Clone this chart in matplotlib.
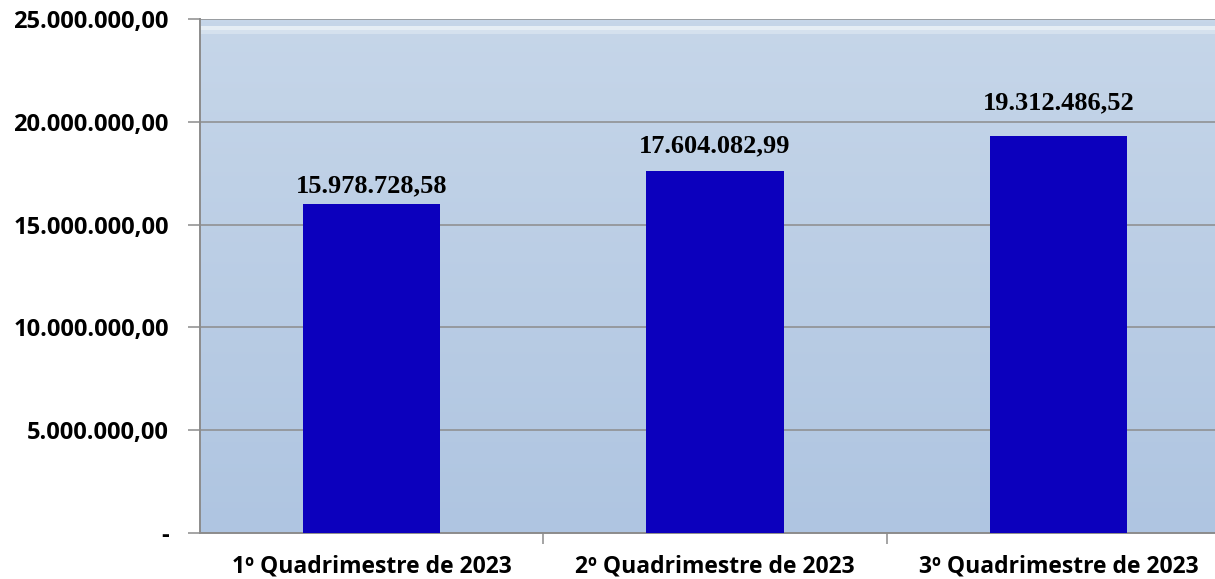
import numpy as np
import matplotlib.pyplot as plt
from matplotlib.colors import LinearSegmentedColormap

categories = ['1º Quadrimestre de 2023', '2º Quadrimestre de 2023', '3º Quadrimestre de 2023']
values = [15978728.58, 17604082.99, 19312486.52]
yticks = [0, 5000000, 10000000, 15000000, 20000000, 25000000]


def br_fmt(v):
    if v == 0:
        return '-'
    s = '{:,.2f}'.format(v)
    return s.replace(',', 'X').replace('.', ',').replace('X', '.')


fig = plt.figure(figsize=(12.15, 5.79), dpi=100)
# plot area runs past the right edge like in the original
ax = fig.add_axes([200 / 1215, 1 - 533 / 579, 1030 / 1215, 514 / 579])

# background gradient with a light band near the top
n = 514
grad = np.linspace(0.0, 1.0, n)
band = np.zeros(n)
band[7:11] = 1.0
band[11:15] = 0.5
cmap = LinearSegmentedColormap.from_list('bg', ['#c6d6e9', '#afc5e1'])
rgb = cmap(grad)[:, :3]
white = np.array([0.90, 0.93, 0.96])
rgb = rgb * (1 - band[:, None]) + white * band[:, None]
img = np.repeat(rgb[:, None, :], 4, axis=1)
ax.imshow(img, extent=[0, 1, 0, 1], transform=ax.transAxes, aspect='auto', zorder=0)

x = np.arange(len(categories))
ax.bar(x, values, width=0.4, color='#0c00bd', zorder=3)
# labels sit a bit higher above each bar in the original
label_offsets = [8.6, 13.7, 19.4]
for xi, v, off in zip(x, values, label_offsets):
    ax.annotate(br_fmt(v), (xi, v), xytext=(0, off), textcoords='offset points',
                ha='center', va='baseline', fontsize=19, fontweight='bold',
                family='Liberation Serif', zorder=4)

ax.set_xlim(-0.5, 2.5)
ax.set_ylim(0, 25000000)
ax.set_yticks(yticks)
ax.set_yticklabels([br_fmt(v) for v in yticks], fontsize=17, fontweight='bold', family='Open Sans')
ax.yaxis.grid(True, color='#8c8c8c', linewidth=1.1, zorder=1)
ax.set_axisbelow(True)

ax.set_xticks([0.5, 1.5], minor=False)
ax.set_xticklabels([])
ax.set_xticks(x, minor=True)
ax.set_xticklabels(categories, minor=True, fontsize=16.5, fontweight='bold', family='Open Sans')
ax.tick_params(axis='x', which='minor', length=0, pad=15.5)
ax.tick_params(axis='x', which='major', length=8, width=1.1, color='#8c8c8c')
ax.tick_params(axis='y', length=9, width=1.1, color='#8c8c8c', pad=13.5)

for side in ['top', 'right']:
    ax.spines[side].set_visible(False)
for side in ['left', 'bottom']:
    ax.spines[side].set_color('#8c8c8c')
    ax.spines[side].set_linewidth(1.4)

fig.savefig('out.png', dpi=100)
